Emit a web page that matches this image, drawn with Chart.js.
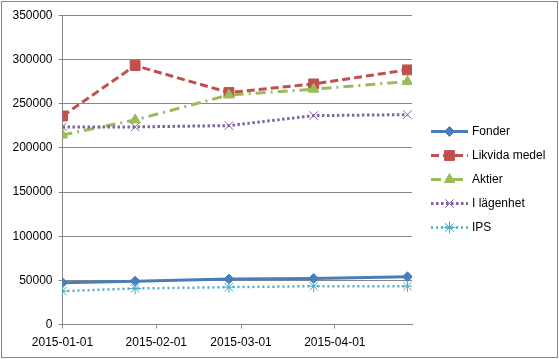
<!DOCTYPE html>
<html>
<head>
<meta charset="utf-8">
<script src="https://cdn.jsdelivr.net/npm/chart.js@4/dist/chart.umd.min.js"></script>
<style>
  body { margin: 0; background: #fff; }
  #wrap { position: absolute; left: 0; top: 0; width: 559px; height: 359px; }
</style>
</head>
<body>
<div id="wrap"><canvas id="assetChart" width="559" height="359"></canvas></div>
<script>
// dates of the observations
var dates = ['2015-01-01', '2015-01-25', '2015-02-25', '2015-03-25', '2015-04-25'];
var tickDates = ['2015-01-01', '2015-02-01', '2015-03-01', '2015-04-01'];

var fonder = [47200, 49100, 51400, 52200, 54000];
var likvidaMedel = [236200, 293300, 262700, 272500, 288400];
var aktier = [214700, 231700, 260000, 266500, 275200];
var iLagenhet = [223800, 223800, 225300, 236600, 237700];
var ips = [37800, 40800, 42300, 43400, 43400];

var seriesNames = ['Fonder', 'Likvida medel', 'Aktier', 'I l\u00e4genhet', 'IPS'];

// days since 2015-01-01 (linear x axis, no date adapter)
var start = Date.UTC(2015, 0, 1);
function dayOf(s) {
    var p = s.split('-');
    return (Date.UTC(+p[0], +p[1] - 1, +p[2]) - start) / 86400000;
}
var xDays = dates.map(dayOf);
var tickDays = tickDates.map(dayOf);

function points(vals) {
    return vals.map(function(v, i) { return { x: xDays[i], y: v }; });
}

var GRAY = '#868686';
var FONT = { family: 'Liberation Sans', size: 12 };

var styles = [
    { color: '#4A7EBB', dash: [], width: 3, point: 'rectRot', radius: 5, fill: true },
    { color: '#C0504D', dash: [8, 4], width: 3, point: 'rect', radius: 7, fill: true },
    { color: '#9BBB59', dash: [10, 5, 2, 5], width: 3, point: 'triangle', radius: 6, fill: true },
    { color: '#8064A2', dash: [2.5, 2.5], width: 3, point: 'crossRot', radius: 6, fill: false },
    { color: '#4BACC6', dash: [2, 3], width: 2.5, point: 'star', radius: 6, fill: false }
];

var allValues = [fonder, likvidaMedel, aktier, iLagenhet, ips];

var datasets = allValues.map(function(vals, i) {
    var s = styles[i];
    return {
        label: seriesNames[i],
        data: points(vals),
        borderColor: s.color,
        backgroundColor: s.color,
        borderWidth: s.width,
        borderDash: s.dash,
        pointStyle: s.point,
        pointRadius: s.radius,
        pointBorderWidth: 1,
        pointBorderColor: s.color,
        pointBackgroundColor: s.fill ? s.color : 'rgba(0,0,0,0)',
        tension: 0,
        order: 4 - i // later series on top, like Excel
    };
});

// outer frame of the chart
var framePlugin = {
    id: 'frame',
    beforeDraw: function(chart) {
        var c = chart.ctx;
        c.save();
        c.fillStyle = '#fff';
        c.fillRect(0, 0, chart.width, chart.height);
        c.strokeStyle = GRAY;
        c.lineWidth = 1;
        c.strokeRect(1.5, 1.5, 556, 356);
        c.restore();
    }
};

// legend on the right with line sample + marker
var legendPlugin = {
    id: 'sideLegend',
    afterDraw: function(chart) {
        var c = chart.ctx;
        chart.data.datasets.forEach(function(ds, i) {
            var y = 131.5 + i * 24;
            c.save();
            c.strokeStyle = ds.borderColor;
            c.lineWidth = ds.borderWidth;
            c.setLineDash(ds.borderDash);
            c.beginPath();
            c.moveTo(431, y);
            c.lineTo(468, y);
            c.stroke();
            c.restore();
            c.save();
            c.setLineDash([]);
            c.strokeStyle = ds.pointBorderColor;
            c.fillStyle = ds.pointBackgroundColor;
            c.lineWidth = ds.pointBorderWidth;
            Chart.helpers.drawPoint(c, { pointStyle: ds.pointStyle, radius: ds.pointRadius, rotation: 0, borderWidth: 1 }, 449.5, y);
            c.restore();
            c.save();
            c.fillStyle = '#000';
            c.font = FONT.size + 'px ' + FONT.family;
            c.textBaseline = 'middle';
            c.fillText(ds.label, 472, y);
            c.restore();
        });
    }
};

var ctx = document.getElementById('assetChart').getContext('2d');
var chart = new Chart(ctx, {
    type: 'line',
    data: { datasets: datasets },
    options: {
        responsive: false,
        animation: false,
        layout: { padding: { left: 0, right: 147, top: 15.5, bottom: 0 } },
        scales: {
            x: {
                type: 'linear',
                min: 0,
                max: 115.5,
                afterBuildTicks: function(scale) {
                    scale.ticks = tickDays.map(function(d) { return { value: d }; });
                },
                afterFit: function(scale) { scale.height = 34.5; },
                ticks: {
                    color: '#000',
                    font: FONT,
                    padding: 7,
                    maxRotation: 0,
                    autoSkip: false,
                    callback: function(v, i) { return tickDates[i]; }
                },
                grid: { drawOnChartArea: false, drawTicks: true, tickLength: 4, color: GRAY },
                border: { color: GRAY }
            },
            y: {
                min: 0,
                max: 350000,
                afterFit: function(scale) { scale.width = 62.5; },
                ticks: {
                    stepSize: 50000,
                    color: '#000',
                    font: FONT,
                    padding: 6,
                    callback: function(v) { return String(v); }
                },
                grid: { color: GRAY, tickLength: 4 },
                border: { color: GRAY }
            }
        },
        plugins: {
            legend: { display: false },
            tooltip: { enabled: false },
            title: { display: false }
        }
    },
    plugins: [framePlugin, legendPlugin]
});
</script>
</body>
</html>
